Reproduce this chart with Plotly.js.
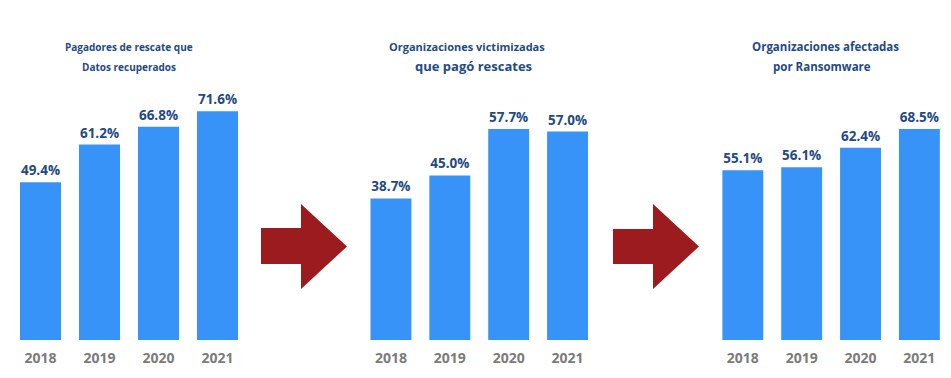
<!DOCTYPE html>
<html>
<head>
<meta charset="utf-8">
<script src="https://cdn.plot.ly/plotly-3.0.1.min.js"></script>
<style>html,body{margin:0;padding:0;background:#fff;}#chart{width:951px;height:378px;}</style>
</head>
<body>
<div id="chart"></div>
<script>
const years = ['2018', '2019', '2020', '2021'];
const pagadoresDatosRecuperados = [49.4, 61.2, 66.8, 71.6];
const victimizadasPagoRescates = [38.7, 45.0, 57.7, 57.0];
const afectadasRansomware = [55.1, 56.1, 62.4, 68.5];
const panelTitles1 = ['Pagadores de rescate que', 'Datos recuperados'];
const panelTitles2 = ['Organizaciones victimizadas', 'que pagó rescates'];
const panelTitles3 = ['Organizaciones afectadas', 'por Ransomware'];

const W = 951, H = 378;
const BAR = '#3893f8', LABEL = '#1f4a85', TICK = '#7b7b7b', ARROW = '#9b1b1e';
const FONT = 'Open Sans, Noto Sans, sans-serif';

function px(x) { return x / W; }
function py(y) { return 1 - y / H; }

function barTrace(vals, n) {
  return {
    type: 'bar', x: years, y: vals,
    xaxis: n === 1 ? 'x' : 'x' + n, yaxis: n === 1 ? 'y' : 'y' + n,
    marker: { color: BAR },
    text: vals.map(v => v.toFixed(1) + '%'),
    textposition: 'outside', cliponaxis: false,
    textfont: { family: FONT, size: 13.5, color: LABEL, weight: 700 },
    hoverinfo: 'skip'
  };
}

const data = [
  barTrace(pagadoresDatosRecuperados, 1),
  barTrace(victimizadasPagoRescates, 2),
  barTrace(afectadasRansomware, 3)
];

const yDom = [py(340), py(100)];
function xax(dom, anchor) {
  return {
    domain: dom, anchor: anchor, type: 'category', range: [-0.5, 3.5],
    showgrid: false, zeroline: false, showline: false, ticks: '',
    tickfont: { family: FONT, size: 14, color: TICK, weight: 700 },
    ticklabelstandoff: 8, fixedrange: true
  };
}
function yax(maxv, anchor) {
  return { domain: yDom, anchor: anchor, range: [0, maxv], visible: false, fixedrange: true };
}

function arrowPath(x0, xb, xt, yb0, yb1, yh0, yh1) {
  const ym = (yh0 + yh1) / 2;
  const pts = [[x0, yb0], [xb, yb0], [xb, yh0], [xt, ym], [xb, yh1], [xb, yb1], [x0, yb1]];
  return 'M ' + pts.map(p => px(p[0]).toFixed(5) + ',' + py(p[1]).toFixed(5)).join(' L ') + ' Z';
}

function titleAnn(text, x, y, size) {
  return {
    text: text, xref: 'paper', yref: 'paper', x: px(x), y: py(y),
    xanchor: 'center', yanchor: 'middle', showarrow: false,
    font: { family: FONT, size: size, color: LABEL, weight: 700 }
  };
}

const layout = {
  width: W, height: H,
  margin: { l: 0, r: 0, t: 0, b: 0 },
  paper_bgcolor: '#fff', plot_bgcolor: '#fff',
  showlegend: false, bargap: 0.305,
  xaxis: xax([px(11), px(247)], 'y'),
  yaxis: yax(75.14, 'x'),
  xaxis2: xax([px(361.5), px(597)], 'y2'),
  yaxis2: yax(65.63, 'x2'),
  xaxis3: xax([px(713.4), px(948.8)], 'y3'),
  yaxis3: yax(77.92, 'x3'),
  shapes: [
    { type: 'path', xref: 'paper', yref: 'paper', path: arrowPath(261, 301, 347, 228, 264, 204, 289), fillcolor: ARROW, line: { width: 0 } },
    { type: 'path', xref: 'paper', yref: 'paper', path: arrowPath(613, 653, 699, 229, 264, 204, 289), fillcolor: ARROW, line: { width: 0 } }
  ],
  annotations: [
    titleAnn(panelTitles1[0], 129, 47, 10),
    titleAnn(panelTitles1[1], 129, 67, 10),
    titleAnn(panelTitles2[0], 467, 47, 11),
    titleAnn(panelTitles2[1], 473, 66, 13),
    titleAnn(panelTitles3[0], 825, 47, 11.5),
    titleAnn(panelTitles3[1], 822, 66, 11.5)
  ]
};

Plotly.newPlot('chart', data, layout, { displayModeBar: false, staticPlot: true });
</script>
</body>
</html>
